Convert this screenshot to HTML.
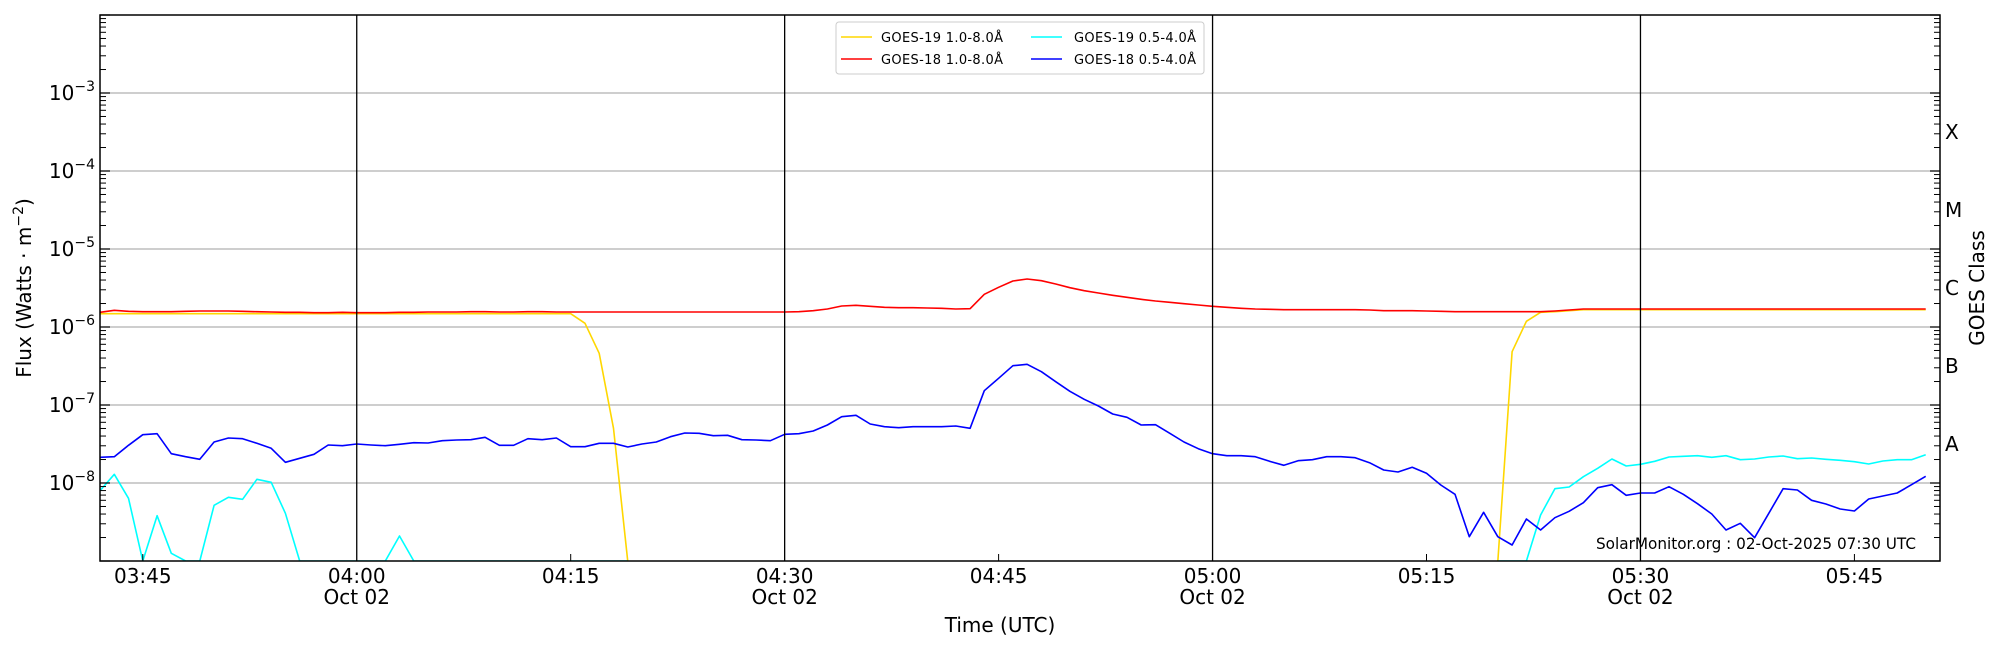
<!DOCTYPE html>
<html><head><meta charset="utf-8"><style>
html,body{margin:0;padding:0;background:#fff;}
svg{display:block;font-family:"DejaVu Sans","Liberation Sans",sans-serif;}
</style></head><body>
<svg id="s" width="2000" height="650" xmlns="http://www.w3.org/2000/svg">
<defs><clipPath id="cp"><rect x="100" y="15" width="1840" height="546"/></clipPath></defs>
<g id="grid"></g>
<g id="series" clip-path="url(#cp)"></g>
<g id="axes"></g>
<rect x="100" y="15" width="1840" height="546" fill="none" stroke="#000" stroke-width="1.5"/>
<rect x="836" y="22" width="368" height="52" fill="#fff" stroke="#ccc" stroke-width="1" rx="3"/>
<line x1="841" y1="37" x2="872" y2="37" stroke="#ffd700" stroke-width="1.5"/>
<text x="881" y="42" font-size="13" textLength="122">GOES-19 1.0-8.0Å</text>
<line x1="841" y1="59" x2="872" y2="59" stroke="#ff0000" stroke-width="1.5"/>
<text x="881" y="64" font-size="13" textLength="122">GOES-18 1.0-8.0Å</text>
<line x1="1031" y1="37" x2="1062" y2="37" stroke="#00ffff" stroke-width="1.5"/>
<text x="1074" y="42" font-size="13" textLength="122">GOES-19 0.5-4.0Å</text>
<line x1="1031" y1="59" x2="1062" y2="59" stroke="#0000ff" stroke-width="1.5"/>
<text x="1074" y="64" font-size="13" textLength="122">GOES-18 0.5-4.0Å</text>
<text x="1596" y="549" font-size="16" textLength="320" lengthAdjust="spacingAndGlyphs">SolarMonitor.org : 02-Oct-2025 07:30 UTC</text>
<text x="1000" y="632" font-size="20" text-anchor="middle">Time (UTC)</text>
<text transform="translate(31,288) rotate(-90)" font-size="20" text-anchor="middle">Flux (Watts · m<tspan font-size="14" dy="-8">−2</tspan><tspan dy="8">)</tspan></text>
<text transform="translate(1984,288) rotate(-90)" font-size="20" text-anchor="middle">GOES Class</text>
</svg>
<script>
var NS="http://www.w3.org/2000/svg";
function el(p,t,a,txt){var e=document.createElementNS(NS,t);for(var k in a)e.setAttribute(k,a[k]);if(txt!=null)e.textContent=txt;p.appendChild(e);return e;}
var grid=document.getElementById('grid'),axes=document.getElementById('axes'),ser=document.getElementById('series');
function Y(lg){return 15+(-2-lg)*78;}
function X(m){return 100+m*1840/129;}
for(var k=-3;k>=-8;k--){el(grid,'line',{x1:100,x2:1940,y1:Y(k),y2:Y(k),stroke:'#b0b0b0','stroke-width':1.3});}
for(var d=-9;d<=-2;d++){
  var y=Y(d);
  el(axes,'line',{x1:100,x2:110,y1:y,y2:y,stroke:'#000','stroke-width':1.2});
  el(axes,'line',{x1:1930,x2:1940,y1:y,y2:y,stroke:'#000','stroke-width':1.2});
  if(d<=-3){for(var j=2;j<=9;j++){var yy=Y(d+Math.log10(j));if(yy<15)continue;
    el(axes,'line',{x1:100,x2:106,y1:yy,y2:yy,stroke:'#000','stroke-width':1});
    el(axes,'line',{x1:1934,x2:1940,y1:yy,y2:yy,stroke:'#000','stroke-width':1});}}
  if(d>=-8&&d<=-3){var t=el(axes,'text',{x:95,y:y+7,'font-size':20,'text-anchor':'end'});
    t.appendChild(document.createTextNode('10'));
    el(t,'tspan',{dy:-9,'font-size':14},'−'+(-d));}
}
var cls=['A','B','C','M','X'];
for(var i=0;i<5;i++){el(axes,'text',{x:1945,y:Y(-7.5+i)+7,'font-size':20},cls[i]);}
var labs=['03:45','04:00','04:15','04:30','04:45','05:00','05:15','05:30','05:45'];
for(var i=0;i<9;i++){var m=3+15*i,x=X(m);
  if(i%2==1){el(axes,'line',{x1:x,x2:x,y1:15,y2:561,stroke:'#000','stroke-width':1.3});
    el(axes,'text',{x:x,y:604,'font-size':20,'text-anchor':'middle'},'Oct 02');}
  else el(axes,'line',{x1:x,x2:x,y1:554,y2:561,stroke:'#000','stroke-width':1});
  el(axes,'text',{x:x,y:583,'font-size':20,'text-anchor':'middle'},labs[i]);
}
var blue=[592,590,556,524,521,581,590,598,546,534,536,550,565,607,595,583,555,557,552,555,557,553,548,549,542,540,539,532,556,556,536,539,534,
560,560,550,550,561,552,546,530,519,520,527,526,539,540,542,523,521,513,495,470,466,492,500,503,500,500,500,498,505,392,355,317,
313,335,365,394,418,438,462,472,495,494,520,546,566,581,587,587,590,604,616,602,599,590,590,593,608,630,636,622,640,675,703,830,
757,830,855,777,810,773,754,728,683,674,706,699,699,680,703,731,762,810,790,833,760,686,690,721,732,747,753,717,708,699,674,649];
var redL=[157,151,154,155,155,155,154,153,153,153,154,155,156,157,157,158,158,157,158,158,158,157,157,156,156,156,155,155,156,156,155,155,156];
var red=[];
for(var m=0;m<=128;m++){var v=156;
 var r={49:155,50:152,51:147,52:138,53:136,54:139,55:142,56:143,57:143,58:144,59:145,60:147,61:146,62:103,63:82,64:63,65:57,66:62,67:72,68:83,69:92,70:99,71:106,72:112,73:118,74:123,75:127,76:131,77:135,78:139,79:142,80:145,81:147,82:148,89:150,90:152,91:152,92:152,93:153,94:154};
 if(m<redL.length)v=redL[m];
 else if(r[m]!==undefined)v=r[m];else if(m>=83&&m<=88)v=149;else if(m>=95&&m<=101)v=155;else if(m==102)v=153;else if(m==103)v=150;else if(m>=104)v=147;
 red.push(v);}
var yel=[];
for(var m=0;m<=128;m++){var v=null;
 if(m<=33)v=161;else if(m==34)v=190;else if(m==35)v=280;else if(m==36)v=505;else if(m==37)v=905;
 else if(m==98)v=905;else if(m==99)v=275;else if(m==100)v=184;else if(m==101)v=157;else if(m>=102)v=red[m]+2;
 yel.push(v);}
var cy=[692,643,715,903,767,880,903,903,736,712,718,658,667,760,903,903,903,903,903,903,903,828,903,903,903,903,903,903,903,903,903,903,903,903,903,903,903,903];
while(cy.length<98)cy.push(null);
cy=cy.concat([903,903,903,765,686,681,650,625,597,618,613,604,591,589,587,592,587,599,597,591,588,596,594,598,601,605,612,603,599,599,584]);
function draw(arr,col){var seg=[];
 function flush(){if(seg.length>1)el(ser,'polyline',{points:seg.join(' '),fill:'none',stroke:col,'stroke-width':1.6,'stroke-linejoin':'round'});seg=[];}
 for(var m=0;m<arr.length;m++){if(arr[m]==null){flush();continue;}seg.push(X(m).toFixed(1)+','+(260+arr[m]/3).toFixed(1));}
 flush();}
draw(yel,'#ffd700');draw(red,'#ff0000');draw(cy,'#00ffff');draw(blue,'#0000ff');
</script>
</body></html>
